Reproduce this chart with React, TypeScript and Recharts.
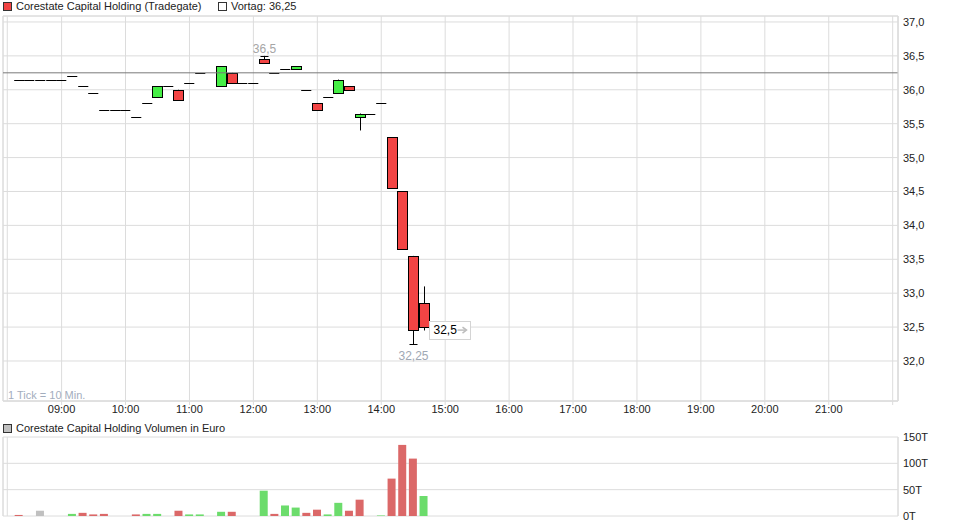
import React from "react";
import {
  ComposedChart,
  Bar,
  Cell,
  XAxis,
  YAxis,
  CartesianGrid,
  ReferenceLine,
  ReferenceArea,
} from "recharts";

// 10-minute candles, Tradegate
const TIMES = [
  "08:20", "08:30", "08:40", "08:50", "09:00", "09:10", "09:20", "09:30", "09:40", "09:50",
  "10:00", "10:10", "10:20", "10:30", "10:40", "10:50", "11:00", "11:10", "11:30", "11:40",
  "11:50", "12:00", "12:10", "12:20", "12:30", "12:40", "12:50", "13:00", "13:10", "13:20",
  "13:30", "13:40", "13:50", "14:00", "14:10", "14:20", "14:30", "14:40",
];
const OPEN = [
  36.15, 36.15, 36.15, 36.15, 36.15, 36.2, 36.05, 35.95, 35.7, 35.7,
  35.7, 35.6, 35.8, 35.9, 36.05, 36.0, 36.1, 36.25, 36.05, 36.25,
  36.1, 36.1, 36.45, 36.25, 36.3, 36.3, 36.0, 35.8, 35.9, 35.95,
  36.05, 35.6, 35.65, 35.8, 35.3, 34.5, 33.55, 32.85,
];
const HIGH = [
  36.15, 36.15, 36.15, 36.15, 36.15, 36.2, 36.05, 35.95, 35.7, 35.7,
  35.7, 35.6, 35.8, 36.05, 36.05, 36.0, 36.1, 36.25, 36.35, 36.25,
  36.1, 36.1, 36.5, 36.25, 36.3, 36.35, 36.0, 35.8, 35.9, 36.15,
  36.05, 35.65, 35.65, 35.8, 35.3, 34.5, 33.55, 33.1,
];
const LOW = [
  36.15, 36.15, 36.15, 36.15, 36.15, 36.2, 36.05, 35.95, 35.7, 35.7,
  35.7, 35.6, 35.8, 35.9, 36.05, 35.85, 36.1, 36.25, 36.05, 36.1,
  36.1, 36.1, 36.4, 36.25, 36.3, 36.3, 36.0, 35.7, 35.9, 35.95,
  36.0, 35.4, 35.65, 35.8, 34.55, 33.65, 32.25, 32.45,
];
const CLOSE = [
  36.15, 36.15, 36.15, 36.15, 36.15, 36.2, 36.05, 35.95, 35.7, 35.7,
  35.7, 35.6, 35.8, 36.05, 36.05, 35.85, 36.1, 36.25, 36.35, 36.1,
  36.1, 36.1, 36.4, 36.25, 36.3, 36.35, 36.0, 35.7, 35.9, 36.15,
  36.0, 35.65, 35.65, 35.8, 34.55, 33.65, 32.45, 32.5,
];
// volume in thousand euro (T)
const VOLUME = [
  2, 0, 10, 0, 0, 4, 6, 3, 4, 0,
  0, 3, 4, 4, 0, 10, 3, 3, 8, 8,
  0, 0, 48, 4, 20, 16, 6, 12, 3, 25,
  10, 31, 0, 1, 71, 135, 109, 38,
];
const PREV_CLOSE = 36.25;
const PRICE_TICKS = [32, 32.5, 33, 33.5, 34, 34.5, 35, 35.5, 36, 36.5, 37];
const VOLUME_TICKS = [0, 50, 100, 150];
const HOUR_TICKS = [
  "09:00", "10:00", "11:00", "12:00", "13:00", "14:00", "15:00",
  "16:00", "17:00", "18:00", "19:00", "20:00", "21:00", "22:00",
];

const FONT = "'Liberation Sans', Arial, sans-serif";
const PRICE_MIN = 31.41;
const PRICE_MAX = 37.088;
const X_MIN = 485;
const X_MAX = 1325;
const GRID = "#dcdcdc";
const UP = "#45ee45";
const DOWN = "#f24444";

const toMin = (t: string) => {
  const [h, m] = t.split(":").map(Number);
  return h * 60 + m;
};
const fmtMin = (v: number) => {
  const h = Math.floor(v / 60);
  const m = v % 60;
  return `${String(h).padStart(2, "0")}:${String(m).padStart(2, "0")}`;
};
const comma = (v: number, d = 1) => v.toFixed(d).replace(".", ",");

const data = TIMES.map((t, i) => ({
  t: toMin(t),
  open: OPEN[i],
  high: HIGH[i],
  low: LOW[i],
  close: CLOSE[i],
  vol: VOLUME[i],
}));
const maxHigh = Math.max(...HIGH);
const minLow = Math.min(...LOW);
const lastT = data[data.length - 1].t;

const volColor = (i: number) => {
  const prev = i === 0 ? PREV_CLOSE : CLOSE[i - 1];
  if (CLOSE[i] > prev) return "#6cdc6c";
  if (CLOSE[i] < prev) return "#db6868";
  return "#c0c0c0";
};

const crisp = (v: number) => Math.round(v) + 0.5;

const Candle = (props: any) => {
  const { x, width, payload } = props;
  const top = Math.min(props.y, props.y + props.height);
  const h = Math.abs(props.height);
  const { open, close, high, low } = payload;
  const k = h / (high - PRICE_MIN);
  const py = (v: number) => top + (high - v) * k;
  const cx = Math.round(x + width / 2);
  const parts: React.ReactNode[] = [];

  if (high === low) {
    const yy = crisp(py(high));
    parts.push(<line key="d" x1={cx - 4.8} x2={cx + 5.3} y1={yy} y2={yy} stroke="#000" />);
  } else {
    parts.push(
      <line key="w" x1={cx + 0.5} x2={cx + 0.5} y1={py(high)} y2={py(low)} stroke="#000" />
    );
    if (open === close) {
      const yy = crisp(py(open));
      parts.push(<line key="b" x1={cx - 5} x2={cx + 5} y1={yy} y2={yy} stroke="#000" />);
    } else {
      const y1 = Math.round(py(Math.max(open, close))) + 0.5;
      const y2 = Math.round(py(Math.min(open, close))) + 0.5;
      parts.push(
        <rect
          key="b"
          x={cx - 4.5}
          y={y1}
          width={10}
          height={Math.max(y2 - y1, 1)}
          fill={close > open ? UP : DOWN}
          stroke="#000"
        />
      );
    }
    if (high === maxHigh) {
      const yy = crisp(py(high));
      parts.push(<line key="hc" x1={cx - 3.5} x2={cx + 4.5} y1={yy} y2={yy} stroke="#000" />);
      parts.push(
        <text key="hl" x={cx + 0.5} y={py(high) - 3} textAnchor="middle" fontSize={12} fill="#a6a6a6" fontFamily={FONT}>
          {comma(high)}
        </text>
      );
    }
    if (low === minLow) {
      const yy = crisp(py(low));
      parts.push(<line key="lc" x1={cx - 3.5} x2={cx + 4.5} y1={yy} y2={yy} stroke="#000" />);
      parts.push(
        <text key="ll" x={cx + 0.5} y={py(low) + 16} textAnchor="middle" fontSize={12} fill="#a0a8b4" fontFamily={FONT}>
          {comma(low, 2)}
        </text>
      );
    }
  }

  if (payload.t === lastT) {
    const yc = py(close) + 3;
    const bx = cx + 5.5;
    parts.push(
      <g key="last">
        <rect x={bx} y={Math.round(yc - 9) + 0.5} width={41} height={18} fill="#fff" stroke="#d4d4d4" />
        <text x={bx + 4} y={yc + 4} fontSize={12} fill="#000" fontFamily={FONT}>
          {comma(close)}
        </text>
        <line x1={bx + 28} x2={bx + 36} y1={yc} y2={yc} stroke="#bdbdbd" strokeWidth={1.5} />
        <path d={`M${bx + 33},${yc - 3} L${bx + 37},${yc} L${bx + 33},${yc + 3}`} fill="none" stroke="#bdbdbd" strokeWidth={1.5} />
      </g>
    );
  }
  return <g>{parts}</g>;
};

const PriceTick = (props: any) => (
  <text x={props.x} y={props.y + 4} fontSize={11} fill="#222" fontFamily={FONT}>
    {comma(props.payload.value)}
  </text>
);
const VolTick = (props: any) => (
  <text x={props.x} y={props.y + 4} fontSize={11} fill="#222" fontFamily={FONT}>
    {`${props.payload.value}T`}
  </text>
);
const TimeTick = (props: any) => {
  const v = props.payload.value;
  if (v >= 1320) return null;
  return (
    <text x={props.x} y={props.y + 8} textAnchor="middle" fontSize={11} fill="#222" fontFamily={FONT}>
      {fmtMin(v)}
    </text>
  );
};

const hourTicks = HOUR_TICKS.map(toMin);

const Square = ({ color }: { color: string }) => (
  <span
    style={{
      display: "inline-block",
      width: 7,
      height: 7,
      background: color,
      border: "1px solid #333",
      marginRight: 4,
      verticalAlign: "-1px",
    }}
  />
);

export default function App() {
  return (
    <div
      style={{
        position: "absolute",
        left: 0,
        top: 0,
        width: 955,
        height: 520,
        background: "#fff",
        fontFamily: FONT,
        fontSize: 11,
        color: "#222",
        overflow: "hidden",
      }}
    >
      <div style={{ position: "absolute", left: 3, top: 0, whiteSpace: "nowrap", lineHeight: "13px" }}>
        <Square color={DOWN} />
        Corestate Capital Holding (Tradegate)
      </div>
      <div style={{ position: "absolute", left: 218, top: 0, whiteSpace: "nowrap", lineHeight: "13px" }}>
        <Square color="#fff" />
        Vortag: {comma(PREV_CLOSE, 2)}
      </div>

      <div style={{ position: "absolute", left: 0, top: 0 }}>
        <ComposedChart width={955} height={420} data={data} margin={{ top: 16, right: 0, bottom: 0, left: 3 }}>
          <CartesianGrid stroke={GRID} />
          <XAxis
            dataKey="t"
            type="number"
            domain={[X_MIN, X_MAX]}
            allowDataOverflow
            ticks={hourTicks}
            interval={0}
            height={19}
            tickSize={4}
            tickMargin={0}
            axisLine={{ stroke: GRID }}
            tickLine={{ stroke: GRID }}
            tick={<TimeTick />}
          />
          <YAxis
            orientation="right"
            type="number"
            domain={[PRICE_MIN, PRICE_MAX]}
            allowDataOverflow
            ticks={PRICE_TICKS}
            interval={0}
            width={57}
            tickSize={5}
            tickMargin={0}
            axisLine={{ stroke: GRID }}
            tickLine={false}
            tick={<PriceTick />}
          />
          <ReferenceArea
            x1={X_MIN}
            x2={X_MAX}
            y1={PRICE_MIN}
            y2={PRICE_MAX}
            fill="none"
            stroke={GRID}
            ifOverflow="visible"
          />
          <ReferenceLine x={489} stroke={GRID} />
          <Bar
            dataKey={(d: any) => [PRICE_MIN, d.high]}
            barSize={10}
            shape={<Candle />}
            isAnimationActive={false}
          />
          <ReferenceLine y={PREV_CLOSE} stroke="#7a7a7a" />
        </ComposedChart>
      </div>

      <div style={{ position: "absolute", left: 8, top: 389, color: "#a3adbd", whiteSpace: "nowrap" }}>
        1 Tick = 10 Min.
      </div>

      <div style={{ position: "absolute", left: 3, top: 422, whiteSpace: "nowrap", lineHeight: "13px" }}>
        <Square color="#c0c0c0" />
        Corestate Capital Holding Volumen in Euro
      </div>

      <div style={{ position: "absolute", left: 0, top: 430 }}>
        <ComposedChart width={955} height={90} data={data} margin={{ top: 7, right: 0, bottom: 4, left: 3 }}>
          <CartesianGrid stroke={GRID} />
          <XAxis
            dataKey="t"
            type="number"
            domain={[X_MIN, X_MAX]}
            allowDataOverflow
            ticks={hourTicks}
            interval={0}
            height={0}
            tick={false}
            tickLine={false}
            axisLine={{ stroke: GRID }}
          />
          <YAxis
            orientation="right"
            type="number"
            domain={[0, 150]}
            allowDataOverflow
            ticks={VOLUME_TICKS}
            interval={0}
            width={57}
            tickSize={5}
            tickMargin={0}
            axisLine={{ stroke: GRID }}
            tickLine={false}
            tick={<VolTick />}
          />
          <ReferenceLine x={489} stroke={GRID} />
          <ReferenceLine x={X_MIN} stroke={GRID} />
          <Bar dataKey="vol" barSize={8} isAnimationActive={false}>
            {data.map((_, i) => (
              <Cell key={i} fill={volColor(i)} />
            ))}
          </Bar>
        </ComposedChart>
      </div>
    </div>
  );
}
